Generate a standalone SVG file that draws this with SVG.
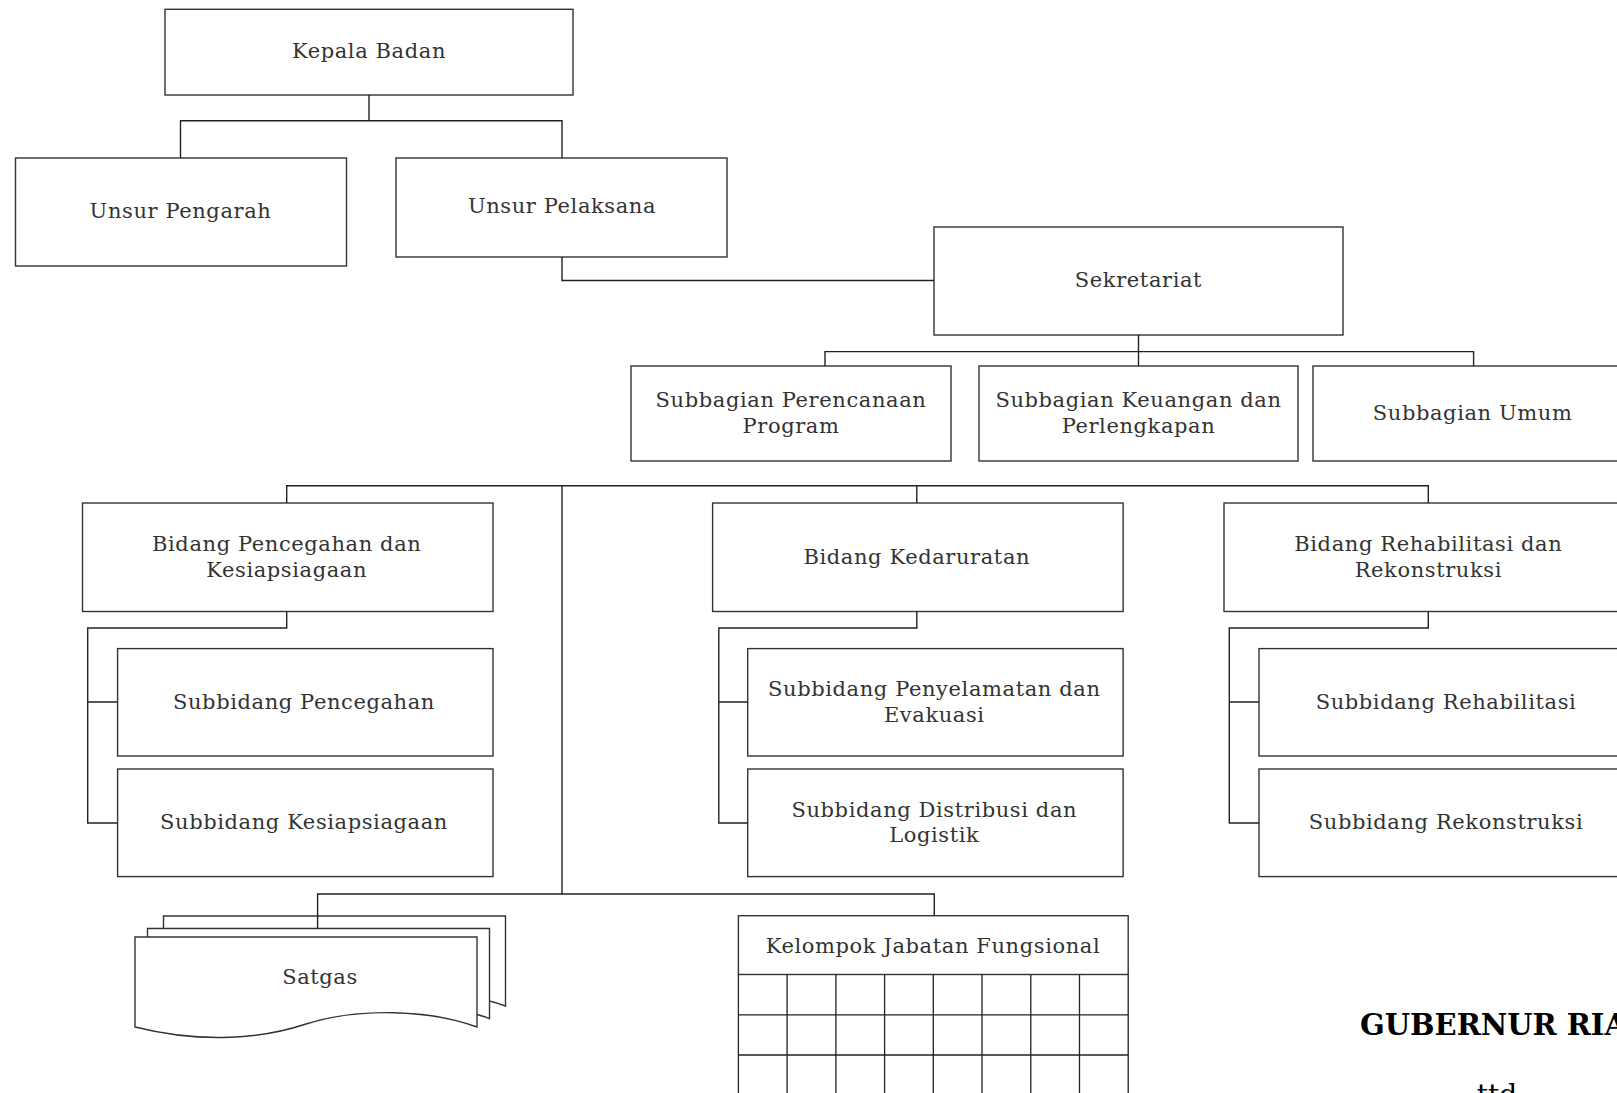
<svg xmlns="http://www.w3.org/2000/svg" xmlns:xlink="http://www.w3.org/1999/xlink" width="1617" height="1093" viewBox="0 0 1617 1093">
<style>
.box{fill:#fff;stroke:#333;stroke-width:1.4}
.lbl{font-family:"DejaVu Serif","Liberation Serif",serif;font-size:21px;letter-spacing:0.6px;fill:#333;text-anchor:middle;dominant-baseline:central}
.con{fill:none;stroke:#222;stroke-width:1.4}
.grid{fill:none;stroke:#222;stroke-width:1.3}
</style>
<defs>
<path id="doc" d="M135,937 H477 V1027 C430,1010 360,1007 306,1024 C255,1041 195,1042 135,1027 Z"/>
</defs>
<rect width="1617" height="1093" fill="#fff"/>
<g id="kepala"><rect class="box" x="165" y="9.3" width="408" height="85.7"/><text class="lbl" x="369" y="50.5">Kepala Badan</text></g>
<g id="pengarah"><rect class="box" x="15.5" y="158" width="331" height="108"/><text class="lbl" x="180.5" y="211">Unsur Pengarah</text></g>
<g id="pelaksana"><rect class="box" x="396" y="158" width="331" height="99"/><text class="lbl" x="562" y="206">Unsur Pelaksana</text></g>
<g id="sekretariat"><rect class="box" x="934" y="227" width="409" height="108"/><text class="lbl" x="1138.5" y="279.5">Sekretariat</text></g>
<g id="sub-perencanaan"><rect class="box" x="631" y="366" width="320" height="95"/><text class="lbl" x="791" y="400">Subbagian Perencanaan</text><text class="lbl" x="791" y="426">Program</text></g>
<g id="sub-keuangan"><rect class="box" x="979" y="366" width="319" height="95"/><text class="lbl" x="1138.5" y="400">Subbagian Keuangan dan</text><text class="lbl" x="1138.5" y="426">Perlengkapan</text></g>
<g id="sub-umum"><rect class="box" x="1313" y="366" width="330" height="95"/><text class="lbl" x="1472.6" y="412.5">Subbagian Umum</text></g>
<g id="bidang-pencegahan"><rect class="box" x="82.5" y="503" width="410.5" height="108.5"/><text class="lbl" x="286.7" y="543.5">Bidang Pencegahan dan</text><text class="lbl" x="286.7" y="570">Kesiapsiagaan</text></g>
<g id="bidang-kedaruratan"><rect class="box" x="712.6" y="503" width="410.5" height="108.5"/><text class="lbl" x="916.8" y="557">Bidang Kedaruratan</text></g>
<g id="bidang-rehabilitasi"><rect class="box" x="1224" y="503" width="410" height="108.5"/><text class="lbl" x="1428.3" y="543.5">Bidang Rehabilitasi dan</text><text class="lbl" x="1428.3" y="570">Rekonstruksi</text></g>
<g id="subbidang-pencegahan"><rect class="box" x="117.6" y="648.6" width="375.4" height="107.4"/><text class="lbl" x="304" y="702">Subbidang Pencegahan</text></g>
<g id="subbidang-kesiapsiagaan"><rect class="box" x="117.6" y="769" width="375.4" height="107.6"/><text class="lbl" x="304" y="822">Subbidang Kesiapsiagaan</text></g>
<g id="subbidang-penyelamatan"><rect class="box" x="747.7" y="648.6" width="375.4" height="107.4"/><text class="lbl" x="934.3" y="689">Subbidang Penyelamatan dan</text><text class="lbl" x="934.3" y="714.6">Evakuasi</text></g>
<g id="subbidang-distribusi"><rect class="box" x="747.7" y="769" width="375.4" height="107.6"/><text class="lbl" x="934.3" y="809.5">Subbidang Distribusi dan</text><text class="lbl" x="934.3" y="835">Logistik</text></g>
<g id="subbidang-rehabilitasi"><rect class="box" x="1259" y="648.6" width="375" height="107.4"/><text class="lbl" x="1446" y="702">Subbidang Rehabilitasi</text></g>
<g id="subbidang-rekonstruksi"><rect class="box" x="1259" y="769" width="375" height="107.6"/><text class="lbl" x="1446" y="822">Subbidang Rekonstruksi</text></g>
<g id="satgas">
<use xlink:href="#doc" href="#doc" class="box" transform="translate(28.5,-21)"/>
<use xlink:href="#doc" href="#doc" class="box" transform="translate(12.5,-8.5)"/>
<use xlink:href="#doc" href="#doc" class="box"/>
<text class="lbl" x="320" y="977">Satgas</text>
</g>
<g id="kelompok">
<rect class="box" x="738.4" y="915.7" width="389.8" height="58.8"/>
<text class="lbl" x="933" y="945.6">Kelompok Jabatan Fungsional</text>
<path class="grid" d="M738.4,974.5 V1100 M787.1,974.5 V1100 M835.9,974.5 V1100 M884.6,974.5 V1100 M933.3,974.5 V1100 M982,974.5 V1100 M1030.8,974.5 V1100 M1079.5,974.5 V1100 M1128.2,974.5 V1100 M738.4,1014.8 H1128.2 M738.4,1055 H1128.2"/>
</g>
<g id="connectors">
<path class="con" d="M369,95 V120.7 M180.5,158 V120.7 H562 V158"/>
<path class="con" d="M562,257 V280.5 H934"/>
<path class="con" d="M1138.5,335 V366 M825,366 V351.6 H1473.6 V366"/>
<path class="con" d="M286.7,503 V485.7 H1428.3 V503 M916.8,485.7 V503 M562,485.7 V894"/>
<path class="con" d="M286.7,611.5 V628 H87.7 V823 H117.6 M87.7,702 H117.6"/>
<path class="con" d="M916.8,611.5 V628 H718.8 V823 H747.7 M718.8,702 H747.7"/>
<path class="con" d="M1428.3,611.5 V628 H1229.3 V823 H1259 M1229.3,702 H1259"/>
<path class="con" d="M317.6,929 V894 H934.3 V915.7"/>
</g>
<g id="signature">
<text x="1360" y="1035" style="font-family:'DejaVu Serif','Liberation Serif',serif;font-weight:bold;font-size:29px;fill:#000">GUBERNUR RIAU</text>
<text x="1497" y="1104" style="font-family:'DejaVu Serif','Liberation Serif',serif;font-size:28px;fill:#000;text-anchor:middle">ttd</text>
</g>
</svg>
